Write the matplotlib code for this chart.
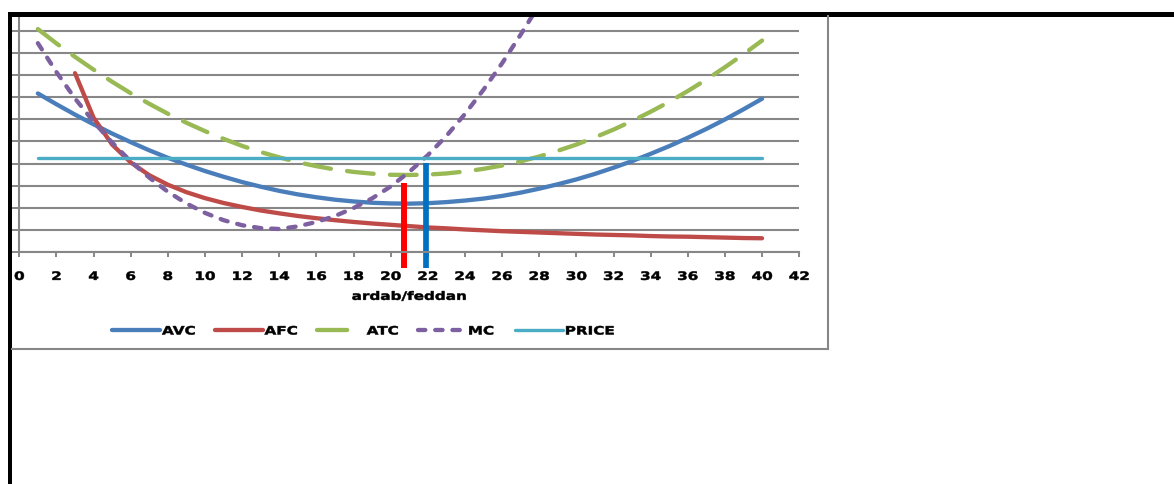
import matplotlib
matplotlib.use("Agg")
import matplotlib.pyplot as plt
from matplotlib.patches import Rectangle
from matplotlib.lines import Line2D
from matplotlib.patheffects import AbstractPathEffect
from matplotlib.transforms import Affine2D

plt.rcParams['font.family'] = ['DejaVu Sans']

# output per feddan (ardab/feddan)
q = list(range(1, 41))
q_afc = list(range(3, 41))
q_mc = list(range(1, 29))

avc = [7.18, 6.69, 6.22, 5.78, 5.36, 4.97, 4.60, 4.26, 3.95, 3.66,
       3.40, 3.16, 2.95, 2.76, 2.60, 2.47, 2.36, 2.28, 2.22, 2.19,
       2.18, 2.20, 2.25, 2.32, 2.41, 2.53, 2.68, 2.86, 3.06, 3.28,
       3.53, 3.81, 4.11, 4.44, 4.79, 5.17, 5.57, 6.00, 6.46, 6.94]

afc = [8.10, 6.08, 4.86, 4.05, 3.47, 3.04, 2.70, 2.43, 2.21, 2.03,
       1.87, 1.74, 1.62, 1.52, 1.43, 1.35, 1.28, 1.22, 1.16, 1.10,
       1.06, 1.01, 0.97, 0.93, 0.90, 0.87, 0.84, 0.81, 0.78, 0.76,
       0.74, 0.71, 0.69, 0.68, 0.66, 0.64, 0.62, 0.61]

atc = [10.10, 9.45, 8.84, 8.26, 7.71, 7.19, 6.71, 6.26, 5.85, 5.47,
       5.12, 4.80, 4.52, 4.28, 4.06, 3.88, 3.73, 3.62, 3.54, 3.49,
       3.48, 3.50, 3.55, 3.64, 3.76, 3.91, 4.10, 4.32, 4.58, 4.86,
       5.19, 5.54, 5.93, 6.35, 6.80, 7.29, 7.81, 8.37, 8.96, 9.58]

mc = [9.46, 8.15, 6.95, 5.90, 4.95, 4.10, 3.36, 2.72, 2.19, 1.76,
      1.43, 1.20, 1.07, 1.03, 1.15, 1.35, 1.62, 1.98, 2.42, 2.96,
      3.62, 4.38, 5.25, 6.25, 7.35, 8.55, 9.85, 11.20]

price = [4.25] * 40

# break-even (ATC = MC) and profit-max (MC = P) quantities
q_marks = [20.7, 21.9]
q_mark_tops = [3.13, 4.02]


class Stretch(AbstractPathEffect):
    """Widen (and slightly embolden) glyphs about the text centre or left edge."""

    def __init__(self, sx, anchor='center', stroke=0.35):
        super().__init__()
        self.sx = sx
        self.anchor = anchor
        self.stroke = stroke

    def draw_path(self, renderer, gc, tpath, affine, rgbFace=None):
        ext = tpath.get_extents()
        x0 = ext.x0 if self.anchor == 'left' else (ext.x0 + ext.x1) / 2
        st = Affine2D().translate(-x0, 0).scale(self.sx, 1).translate(x0, 0)
        gc0 = renderer.new_gc()
        gc0.copy_properties(gc)
        gc0.set_linewidth(self.stroke)
        gc0.set_foreground(rgbFace)
        renderer.draw_path(gc0, tpath, st + affine, rgbFace)
        gc0.restore()


grey = '#878787'
fs = 8.3
sx = 1.32
W, H = 1174, 484

fig = plt.figure(figsize=(W / 100, H / 100), dpi=100)
ax = fig.add_axes([19.3 / W, (H - 251.7) / H, 779.9 / W, 236.5 / H])

ax.plot(q, avc, color='#4A7EBB', lw=3.1, solid_capstyle='round', label='AVC')
ax.plot(q_afc, afc, color='#BE4B48', lw=3.1, solid_capstyle='round', label='AFC')
ax.plot(q, atc, color='#98B954', lw=3.1, dashes=(6.2, 3.8),
        dash_capstyle='round', label='ATC')
ax.plot(q_mc, mc, color='#7D60A0', lw=3.1, dashes=(1.7, 2.3),
        dash_capstyle='round', label='MC')
ax.plot(q, price, color='#4BACC6', lw=2.4, solid_capstyle='round', label='PRICE')

ax.plot([q_marks[0]] * 2, [-0.72, q_mark_tops[0]], color='#FF0000', lw=4.3,
        solid_capstyle='butt', clip_on=False)
ax.plot([q_marks[1]] * 2, [-0.74, q_mark_tops[1]], color='#0070C0', lw=4.1,
        solid_capstyle='butt', clip_on=False)

ax.set_xlim(0, 42)
ax.set_ylim(0, 10.73)
ax.set_xticks(range(0, 43, 2))
ax.set_yticks(range(0, 11))
ax.set_yticklabels([])
ax.yaxis.grid(True, color=grey, lw=1.5)
ax.set_axisbelow(True)

for s in ['top', 'right']:
    ax.spines[s].set_visible(False)
for s in ['left', 'bottom']:
    ax.spines[s].set_color(grey)
    ax.spines[s].set_linewidth(1.5)

ax.tick_params(axis='x', length=3.6, width=1.4, color=grey, pad=9.5,
               labelsize=fs)
ax.tick_params(axis='y', length=5, width=1.4, color=grey)
for lab in ax.get_xticklabels():
    lab.set_fontweight('bold')
    lab.set_path_effects([Stretch(sx)])

xl = ax.set_xlabel('ardab/feddan', fontsize=fs, fontweight='bold', labelpad=5)
xl.set_path_effects([Stretch(sx)])

leg = ax.legend(loc='center left', bbox_to_anchor=(112 / W, 1 - 331 / H),
                bbox_transform=fig.transFigure, ncol=5, frameon=False,
                prop={'size': fs, 'weight': 'bold'}, handlelength=4.17,
                handletextpad=0.17, columnspacing=2.34, borderpad=0,
                borderaxespad=0)
for t in leg.get_texts():
    t.set_path_effects([Stretch(sx, 'left')])
# the long-dash key shows a single dash
leg.get_lines()[2].set_dashes((7.0, 10.0))

# chart frame and black border
fig.add_artist(Line2D([828.3 / W, 828.3 / W], [1 - 16 / H, 1 - 349.3 / H],
                      transform=fig.transFigure, color=grey, lw=1.5))
fig.add_artist(Line2D([12 / W, 828.3 / W], [1 - 349.3 / H, 1 - 349.3 / H],
                      transform=fig.transFigure, color=grey, lw=1.5))
fig.add_artist(Rectangle((8 / W, 1 - 16.5 / H), 1 - 8 / W, 4.5 / H,
                         transform=fig.transFigure, color='black', lw=0))
fig.add_artist(Rectangle((8 / W, 0), 4 / W, 1 - 12 / H,
                         transform=fig.transFigure, color='black', lw=0))

fig.savefig('out.png', dpi=100)
